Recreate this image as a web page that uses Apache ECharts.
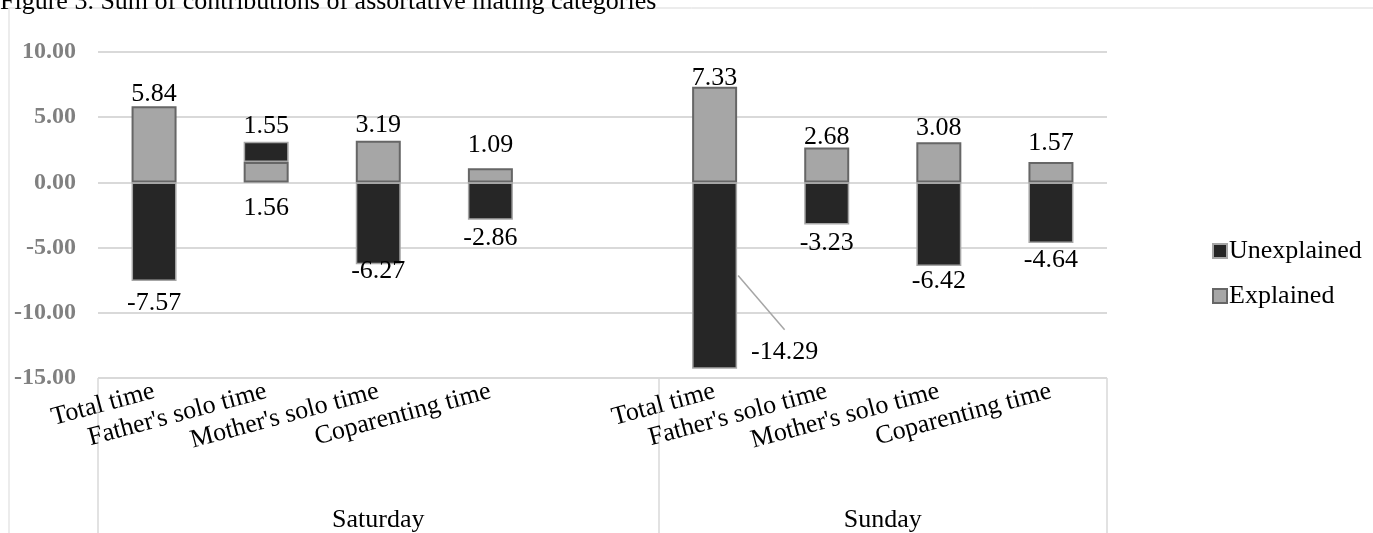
<!DOCTYPE html>
<html>
<head>
<meta charset="utf-8">
<script src="https://cdn.jsdelivr.net/npm/echarts@6/dist/echarts.min.js"></script>
<style>
html,body{margin:0;padding:0;background:#fff;}
#c{width:1373px;height:533px;}
</style>
</head>
<body>
<div id="c"></div>
<script>
// ---- data ----
const titleText = 'Figure 3. Sum of contributions of assortative mating categories';
const categories = ['Total time', "Father's solo time", "Mother's solo time", 'Coparenting time', '',
                    'Total time', "Father's solo time", "Mother's solo time", 'Coparenting time'];
const groups = ['Saturday', 'Sunday'];
const seriesNames = ['Unexplained', 'Explained'];
const explained   = [5.84, 1.56, 3.19, 1.09, null, 7.33, 2.68, 3.08, 1.57];
const unexplained = [-7.57, 1.55, -6.27, -2.86, null, -14.29, -3.23, -6.42, -4.64];
const yMin = -15, yMax = 10, yStep = 5;

// ---- label placement (styling) ----
const explainedLabelPos = ['top', 'bottom', 'top', 'top', 'top', 'top', 'top', 'top', 'top'];
const explainedLabelDy  = [4, 10, 0, -7, 0, 7, 6, 2, -3];
const unexplainedLabelPos = ['bottom', 'top', 'bottom', 'bottom', 'bottom', 'bottom', 'bottom', 'bottom', 'bottom'];
const unexplainedLabelDy  = [6, 0, -9, 2, 0, -33, 3, -1, 1];
const unexplainedLabelDx  = [0, 0, 0, 0, 0, 70, 0, 0, 0];

const FONT = "'Liberation Serif', 'Times New Roman', serif";
const BAR_W = 45;
const GRID = {left: 98, right: 266, top: 52, bottom: 153};

// group axis: half-slot positions, groups centred in their spans
const groupAxisData = new Array(categories.length * 2 + 1).fill('');
groupAxisData[5] = groups[0];
groupAxisData[14] = groups[1];
const groupDividers = [0, 10, 18];

function buildData(vals, pos, dy, dx) {
  return vals.map((v, i) => ({
    value: v,
    label: {position: pos[i], offset: [dx ? dx[i] : 0, dy[i]]}
  }));
}

const chart = echarts.init(document.getElementById('c'), null, {renderer: 'canvas'});

const labelStyle = {
  show: true,
  fontFamily: FONT,
  fontSize: 26,
  lineHeight: 26,
  color: '#000',
  distance: 3,
  formatter: p => (p.value == null ? '' : p.value.toFixed(2))
};

chart.setOption({
  animation: false,
  backgroundColor: '#fff',
  grid: GRID,
  legend: {
    orient: 'vertical',
    left: 1207,
    top: 233,
    itemWidth: 14,
    itemHeight: 14,
    itemGap: 19,
    icon: 'rect',
    data: seriesNames,
    textStyle: {fontFamily: FONT, fontSize: 26, color: '#000', padding: [0, 0, 0, -3]}
  },
  xAxis: [
    {
      type: 'category',
      position: 'bottom',
      data: categories,
      axisLine: {show: false},
      axisTick: {show: false},
      axisLabel: {
        interval: 0,
        rotate: 15,
        margin: 13,
        fontFamily: FONT,
        fontSize: 26,
        color: '#000'
      }
    },
    {
      type: 'category',
      position: 'bottom',
      offset: 0,
      boundaryGap: false,
      data: groupAxisData,
      axisLine: {show: false},
      axisTick: {
        show: true,
        length: 170,
        interval: (i) => groupDividers.indexOf(i) >= 0,
        lineStyle: {color: '#d9d9d9', width: 1.5}
      },
      axisLabel: {
        interval: 0,
        margin: 129,
        fontFamily: FONT,
        fontSize: 26,
        color: '#000'
      }
    }
  ],
  yAxis: {
    type: 'value',
    min: yMin,
    max: yMax,
    interval: yStep,
    axisLine: {show: false},
    axisTick: {show: false},
    splitLine: {lineStyle: {color: '#d9d9d9', width: 2}},
    axisLabel: {
      margin: 22,
      fontFamily: FONT,
      fontSize: 24,
      fontWeight: 'bold',
      color: '#808080',
      formatter: v => v.toFixed(2)
    }
  },
  series: [
    {
      name: seriesNames[1],
      type: 'bar',
      stack: 'total',
      barWidth: BAR_W,
      xAxisIndex: 0,
      itemStyle: {color: '#a6a6a6', borderColor: '#666666', borderWidth: 2},
      label: labelStyle,
      data: buildData(explained, explainedLabelPos, explainedLabelDy)
    },
    {
      name: seriesNames[0],
      type: 'bar',
      stack: 'total',
      barWidth: BAR_W,
      xAxisIndex: 0,
      itemStyle: {color: '#262626', borderColor: '#a6a6a6', borderWidth: 1.5},
      label: labelStyle,
      data: buildData(unexplained, unexplainedLabelPos, unexplainedLabelDy, unexplainedLabelDx)
    }
  ]
});

// leader line for the moved label (computed through the chart's own scales)
const movedIdx = unexplainedLabelDx.findIndex(d => d !== 0);
const mid = chart.convertToPixel({gridIndex: 0}, [movedIdx, unexplained[movedIdx] / 2]);
const end = chart.convertToPixel({gridIndex: 0}, [movedIdx, unexplained[movedIdx]]);
const labelTop = end[1] + labelStyle.distance + unexplainedLabelDy[movedIdx];

chart.setOption({
  graphic: [
    {
      type: 'rect', z: -10, silent: true,
      shape: {x: 9, y: 8, width: 1500, height: 700},
      style: {fill: 'none', stroke: '#d9d9d9', lineWidth: 1}
    },
    {
      type: 'text', left: 0, top: -11, z: 10,
      style: {text: titleText, font: '26px ' + FONT, fill: '#000'}
    },
    {
      type: 'line', z: 5, silent: true,
      shape: {x1: mid[0] + BAR_W / 2 + 1, y1: mid[1], x2: end[0] + unexplainedLabelDx[movedIdx], y2: labelTop - 9},
      style: {stroke: '#a6a6a6', lineWidth: 1.5}
    }
  ]
});
</script>
</body>
</html>
